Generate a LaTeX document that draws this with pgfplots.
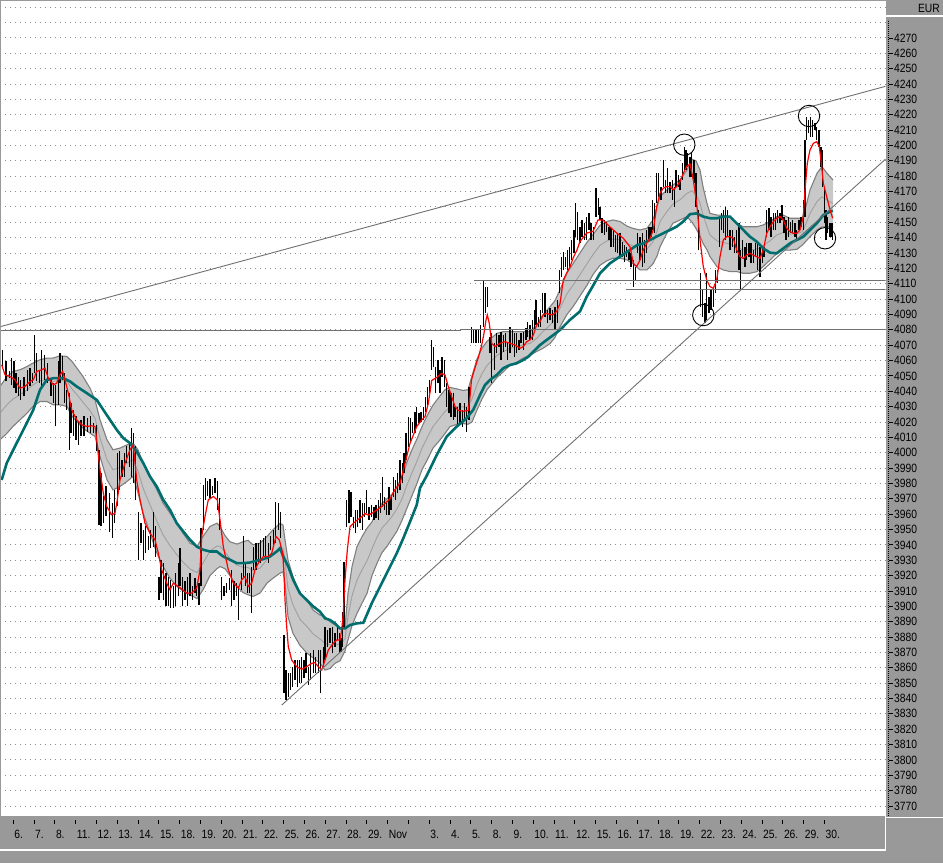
\documentclass[border=0pt]{standalone}
\usepackage{fontspec}
\setmainfont{Liberation Sans}[FakeStretch=0.86]
\usepackage{pgfplots}
\usepackage{pgfplotstable}
\pgfplotsset{compat=1.18}

\definecolor{panel}{HTML}{999999}
\definecolor{bandfill}{HTML}{C8C8C8}
\definecolor{bandline}{HTML}{7F7F7F}
\definecolor{midline}{HTML}{A0A0A0}
\definecolor{tealc}{HTML}{006E6E}
\definecolor{trend}{HTML}{707070}
\definecolor{gridc}{HTML}{8C8C8C}

\pgfplotstableread{
x lo hi
2.7 4056.6 4067.0
6.0 4046.4 4059.4
9.3 4048.5 4052.9
11.7 4044.2 4061.6
14.0 4042.0 4059.4
16.0 4038.8 4051.8
18.3 4036.6 4049.6
20.7 4034.4 4047.4
24.0 4036.6 4049.6
27.3 4039.9 4054.0
30.0 4043.1 4055.0
32.3 4045.3 4051.8
34.3 4051.8 4076.7
36.7 4046.4 4064.8
39.3 4045.3 4054.0
41.7 4043.1 4067.0
44.3 4047.4 4063.7
47.7 4045.3 4058.3
51.0 4036.6 4047.4
53.3 4032.3 4045.3
55.7 4017.1 4044.2
58.3 4031.2 4059.4
60.0 4045.3 4064.8
62.3 4047.4 4063.1
64.3 4032.3 4051.8
66.7 4027.9 4040.9
69.3 4001.9 4038.8
71.0 4012.7 4032.3
73.3 4010.6 4027.9
76.0 4008.4 4023.6
78.3 4005.1 4020.3
81.0 4010.6 4021.4
84.0 4010.6 4023.6
87.3 4013.8 4022.5
90.7 4012.7 4024.0
93.3 4012.7 4019.2
96.7 4000.8 4018.2
99.0 3953.1 4001.9
101.0 3952.0 3986.7
103.3 3954.1 3971.5
106.0 3958.5 3978.0
109.3 3948.7 3973.7
112.3 3944.4 3967.2
114.3 3954.1 3975.8
117.3 3965.0 3999.7
119.3 3975.8 4000.8
122.0 3984.5 3995.4
124.3 3984.5 3999.7
126.7 3993.2 4004.1
129.3 3991.0 4006.2
131.7 3984.5 4016.0
133.3 3980.2 4012.7
135.7 3969.3 4004.1
138.3 3930.3 3961.7
141.0 3941.1 3954.1
143.3 3930.3 3949.8
145.7 3934.6 3952.0
148.3 3936.8 3945.5
150.7 3937.9 3949.8
153.3 3938.9 3961.7
155.7 3932.4 3952.0
159.0 3904.2 3919.4
161.0 3908.6 3930.3
163.3 3904.2 3928.1
166.0 3899.9 3921.6
168.3 3899.9 3919.4
170.7 3898.8 3917.2
173.3 3898.8 3912.9
175.7 3899.9 3921.6
178.3 3906.4 3928.1
180.0 3912.9 3937.9
182.7 3899.9 3919.4
185.0 3904.2 3916.2
187.3 3899.9 3919.4
190.0 3906.4 3921.6
192.7 3904.2 3912.9
195.0 3908.6 3918.3
196.7 3906.4 3912.9
199.0 3901.0 3915.1
201.0 3912.9 3950.9
203.3 3949.8 3979.1
205.7 3969.3 3983.4
207.3 3971.5 3981.3
210.0 3970.4 3982.8
212.7 3972.6 3978.0
215.0 3973.7 3983.4
217.3 3962.8 3981.3
219.3 3949.8 3970.4
221.7 3904.2 3919.4
224.0 3906.4 3912.9
226.7 3908.6 3915.1
229.3 3910.7 3918.3
231.7 3899.9 3923.8
234.0 3904.2 3916.2
236.7 3906.4 3915.1
238.7 3891.2 3912.9
241.3 3910.7 3921.6
243.3 3919.4 3945.5
245.7 3912.9 3928.1
247.3 3908.6 3921.6
249.3 3908.6 3921.6
251.3 3895.5 3925.9
253.3 3923.8 3938.9
256.0 3923.8 3941.1
258.3 3928.1 3941.1
260.7 3928.1 3943.3
263.3 3932.4 3944.4
265.7 3932.4 3945.5
268.3 3928.1 3941.1
270.7 3936.8 3945.5
273.3 3938.9 3949.8
275.7 3941.1 3968.2
278.3 3949.8 3967.2
280.7 3944.4 3961.7
284.0 3843.3 3881.3
286.0 3839.0 3858.5
288.3 3841.2 3856.4
290.7 3845.5 3856.4
292.7 3847.7 3860.7
295.0 3852.0 3865.0
297.3 3847.7 3865.0
299.3 3849.8 3865.0
301.7 3849.8 3867.2
304.0 3853.1 3865.0
306.0 3856.4 3869.4
308.3 3848.8 3860.7
310.7 3852.0 3869.4
313.3 3856.4 3871.5
315.7 3856.4 3867.2
318.3 3856.4 3871.5
320.7 3843.3 3871.5
323.3 3860.7 3873.7
325.0 3865.0 3886.7
327.3 3873.7 3884.5
330.0 3875.9 3885.6
332.3 3869.4 3886.7
335.0 3873.7 3882.4
337.3 3878.0 3886.7
339.3 3869.4 3882.4
341.0 3870.5 3879.1
342.7 3873.7 3896.5
344.0 3886.7 3929.0
346.7 3951.8 3969.2
349.0 3954.0 3975.7
351.0 3958.3 3974.6
353.3 3950.7 3958.3
355.7 3947.5 3962.7
357.7 3951.8 3962.7
360.0 3954.0 3969.2
362.3 3949.7 3967.0
364.3 3958.3 3967.0
366.7 3960.5 3975.7
369.0 3956.2 3964.9
371.7 3958.3 3965.9
374.0 3956.2 3964.9
376.0 3957.3 3965.9
378.3 3956.2 3969.2
380.7 3960.5 3973.5
382.7 3964.9 3984.4
384.3 3962.7 3971.4
386.7 3959.4 3967.0
389.0 3959.4 3977.9
391.0 3962.7 3971.4
393.3 3971.4 3984.4
395.7 3969.2 3982.2
397.7 3973.5 3986.6
400.0 3975.7 3995.2
402.3 3980.0 3993.1
404.0 3986.6 3999.6
406.0 3995.3 4012.6
408.3 4004.0 4023.5
410.7 4007.2 4022.4
412.7 4012.6 4020.2
415.0 4012.6 4026.7
416.7 4017.0 4030.0
419.0 4019.1 4025.6
421.0 4020.2 4026.7
423.3 4021.3 4030.0
425.7 4026.7 4036.5
427.3 4030.0 4043.0
429.3 4038.7 4047.4
431.3 4053.9 4073.4
433.3 4056.0 4069.1
435.7 4038.7 4056.0
438.0 4045.2 4060.4
440.0 4038.7 4053.9
442.0 4049.5 4062.5
444.3 4043.0 4060.4
446.7 4030.0 4045.2
449.0 4025.6 4040.8
451.0 4023.5 4038.7
453.3 4021.3 4038.7
455.0 4023.5 4030.0
457.3 4017.0 4030.0
460.0 4019.1 4032.2
462.3 4017.0 4027.8
464.3 4021.3 4032.2
466.7 4013.7 4030.0
469.0 4021.3 4043.0
471.7 4071.3 4082.1
473.3 4071.3 4079.9
476.0 4071.3 4079.9
478.3 4071.3 4079.9
480.7 4071.3 4083.2
483.3 4082.1 4112.4
485.3 4090.8 4108.1
487.7 4095.1 4108.1
490.0 4064.7 4075.6
491.7 4045.2 4077.7
494.3 4053.9 4071.2
496.7 4064.7 4077.7
499.0 4069.1 4076.6
501.0 4060.4 4078.8
503.3 4065.8 4076.6
505.7 4069.1 4077.7
507.7 4060.4 4071.2
510.0 4064.7 4082.1
512.3 4069.1 4079.9
514.3 4062.5 4077.7
516.7 4064.7 4077.7
519.0 4066.9 4073.4
521.0 4071.2 4077.7
523.3 4066.9 4078.8
526.0 4073.4 4081.0
527.7 4075.6 4085.3
530.0 4073.4 4083.2
532.3 4073.4 4086.4
534.3 4079.9 4092.9
536.0 4083.2 4099.4
538.3 4082.1 4088.6
540.7 4082.1 4092.9
542.7 4090.8 4103.8
545.0 4088.6 4103.8
547.3 4084.2 4092.9
550.0 4086.4 4094.0
552.7 4084.2 4092.9
555.0 4079.9 4095.1
557.3 4084.2 4099.4
559.3 4103.8 4119.0
561.7 4114.6 4127.7
563.3 4119.0 4130.9
565.3 4121.2 4127.7
567.3 4119.0 4132.0
569.3 4121.2 4134.2
571.7 4125.5 4138.5
574.0 4129.8 4145.0
575.7 4140.7 4162.4
577.7 4138.5 4157.0
580.0 4136.3 4147.2
582.0 4140.7 4151.5
584.3 4138.5 4149.4
586.7 4138.5 4153.7
589.0 4145.0 4155.9
591.0 4138.5 4149.4
593.3 4138.5 4147.2
596.0 4153.7 4172.1
598.3 4154.8 4165.6
600.0 4151.5 4160.2
602.0 4142.9 4152.6
604.3 4141.8 4151.5
606.7 4143.9 4150.5
609.0 4138.5 4147.2
611.0 4134.2 4146.1
613.3 4134.2 4145.0
615.7 4130.9 4141.8
617.7 4129.8 4142.9
620.0 4127.7 4142.9
622.3 4127.7 4137.4
624.3 4124.4 4135.3
626.7 4127.7 4134.2
629.0 4125.5 4132.0
631.0 4121.2 4129.8
633.3 4108.1 4125.5
635.7 4112.5 4121.2
637.7 4129.8 4142.9
640.0 4125.5 4140.7
642.3 4121.2 4142.9
644.3 4123.3 4138.5
646.7 4129.8 4145.0
649.0 4138.5 4147.2
651.0 4140.7 4147.2
652.7 4145.0 4164.6
654.3 4142.9 4162.4
656.7 4162.4 4181.9
658.7 4166.7 4181.9
661.0 4164.6 4173.2
663.3 4173.2 4190.6
665.3 4168.9 4177.6
667.3 4168.9 4185.2
670.0 4168.9 4176.5
672.3 4164.6 4177.6
674.3 4160.2 4173.2
676.0 4173.2 4184.1
678.3 4173.2 4180.8
680.0 4171.1 4177.6
682.3 4177.6 4188.4
684.3 4184.1 4199.3
686.0 4184.1 4197.1
687.7 4186.3 4194.9
690.0 4179.7 4192.8
691.7 4179.7 4194.9
694.0 4175.4 4190.5
696.0 4160.2 4181.9
698.3 4132.0 4158.0
700.7 4095.1 4116.8
702.7 4088.6 4105.9
705.0 4084.2 4097.2
706.7 4086.4 4116.8
709.0 4090.7 4101.6
711.0 4092.9 4105.9
713.3 4095.1 4108.1
715.7 4103.8 4118.9
717.3 4110.2 4118.9
719.3 4134.1 4153.7
721.7 4145.0 4155.8
723.3 4142.8 4158.0
725.7 4138.5 4160.2
727.7 4140.6 4158.0
730.0 4132.0 4145.0
732.3 4134.1 4145.0
734.3 4129.8 4140.6
736.7 4129.8 4145.0
739.0 4118.9 4149.3
740.7 4106.0 4132.0
742.7 4127.6 4138.5
745.0 4121.1 4134.1
746.7 4125.4 4136.3
749.0 4127.6 4136.3
751.0 4123.3 4136.3
753.3 4123.3 4132.0
755.7 4127.6 4136.3
757.7 4118.9 4136.3
760.0 4114.6 4134.1
762.3 4123.3 4134.1
764.0 4127.6 4134.1
766.7 4140.6 4158.0
769.0 4145.0 4159.1
771.0 4140.6 4153.7
773.3 4145.0 4155.8
775.7 4145.0 4155.8
777.7 4149.3 4158.0
780.0 4149.3 4155.8
782.0 4151.5 4161.2
784.0 4142.8 4153.7
786.0 4138.5 4151.5
788.3 4140.6 4153.7
790.7 4142.8 4150.4
792.7 4142.8 4151.5
795.0 4140.6 4149.3
796.7 4138.5 4145.0
799.0 4145.0 4151.5
801.0 4147.1 4153.7
803.3 4145.0 4164.5
805.0 4153.7 4203.6
806.7 4203.6 4218.8
808.7 4207.9 4216.6
810.7 4205.7 4218.8
812.7 4205.7 4216.6
815.0 4210.1 4214.4
816.7 4203.6 4212.2
819.0 4199.2 4210.1
821.0 4186.2 4199.2
822.7 4173.2 4197.1
824.3 4149.3 4173.2
826.0 4138.5 4158.0
827.7 4142.8 4153.7
829.3 4140.6 4149.3
831.0 4140.6 4149.3
832.7 4138.5 4149.3
}\bars

\pgfplotstableread{
x u l m
0 4043.1 4008.4 4025.8
7 4049.6 4012.7 4031.2
13 4052.9 4017.1 4035.0
20 4054.0 4021.4 4037.7
27 4056.1 4025.7 4040.9
33 4058.3 4030.1 4044.2
40 4060.5 4033.3 4046.9
47 4061.6 4033.3 4047.5
53 4061.6 4031.2 4046.4
60 4063.1 4031.2 4047.2
67 4062.6 4030.1 4046.4
72 4059.4 4023.6 4041.5
77 4055.0 4020.3 4037.7
83 4049.6 4016.0 4032.8
90 4042.0 4012.7 4027.4
95 4034.4 4010.6 4022.5
100 4021.4 3997.5 4009.5
107 4008.4 3982.3 3995.4
113 4001.9 3975.8 3988.9
120 4003.0 3978.0 3990.5
127 4005.1 3981.3 3993.2
133 4006.2 3984.5 3995.4
138 4001.9 3974.0 3988.0
143 3993.2 3961.0 3977.1
150 3984.5 3947.6 3966.1
157 3975.8 3934.5 3955.2
163 3967.2 3926.0 3946.6
170 3960.7 3918.3 3939.5
177 3954.1 3912.9 3933.5
183 3947.6 3910.0 3928.8
190 3941.1 3907.5 3924.3
197 3938.9 3905.0 3922.0
203 3945.5 3910.7 3928.1
210 3952.0 3920.0 3936.0
217 3954.1 3924.5 3939.3
220 3952.0 3925.9 3939.0
225 3946.0 3924.5 3935.3
230 3942.0 3920.0 3931.0
237 3940.5 3913.0 3926.8
243 3942.0 3909.0 3925.5
248 3943.0 3907.5 3925.3
253 3940.0 3906.4 3923.2
260 3941.1 3908.6 3924.9
267 3945.5 3915.1 3930.3
273 3949.8 3918.3 3934.1
280 3954.0 3921.6 3937.8
283 3952.9 3922.5 3937.7
285 3943.2 3914.9 3929.1
288 3930.1 3893.2 3911.7
293 3919.3 3882.4 3900.9
300 3908.4 3874.5 3891.5
307 3904.0 3869.5 3886.8
313 3897.6 3866.5 3882.1
320 3894.3 3863.0 3878.7
325 3893.2 3858.5 3875.9
330 3890.0 3859.5 3874.8
335 3887.8 3862.9 3875.4
340 3885.6 3864.5 3875.1
345 3886.7 3871.0 3878.9
348 3908.4 3878.1 3893.3
352 3925.8 3887.5 3906.7
357 3938.8 3895.4 3917.1
362 3945.3 3902.0 3923.7
367 3950.8 3908.4 3929.6
372 3955.0 3920.0 3937.5
377 3962.0 3928.0 3945.0
382 3967.0 3935.0 3951.0
387 3970.0 3939.0 3954.5
392 3973.0 3944.0 3958.5
397 3978.0 3949.0 3963.5
402 3984.0 3956.0 3970.0
407 3994.0 3964.0 3979.0
412 4002.0 3972.0 3987.0
417 4009.0 3980.0 3994.5
422 4017.0 3989.0 4003.0
427 4024.0 3995.0 4009.5
433 4031.0 4003.0 4017.0
440 4037.0 4008.3 4022.7
445 4041.0 4012.5 4026.8
450 4042.5 4017.0 4029.8
457 4041.5 4018.5 4030.0
463 4040.5 4019.0 4029.8
468 4041.0 4018.5 4029.8
472 4050.0 4020.0 4035.0
477 4061.0 4027.8 4044.4
482 4068.0 4035.0 4051.5
487 4072.5 4041.0 4056.8
492 4075.0 4045.0 4060.0
497 4077.7 4049.0 4063.4
503 4078.8 4052.5 4065.7
510 4078.8 4057.0 4067.9
517 4078.8 4059.0 4068.9
523 4078.8 4061.5 4070.2
530 4078.8 4063.5 4071.2
537 4083.2 4066.0 4074.6
543 4090.0 4068.0 4079.0
550 4095.0 4071.0 4083.0
555 4099.0 4075.0 4087.0
560 4106.0 4082.0 4094.0
567 4117.0 4090.0 4103.5
573 4123.0 4095.0 4109.0
580 4130.0 4102.0 4116.0
587 4137.0 4109.0 4123.0
593 4142.0 4116.0 4129.0
600 4148.0 4122.0 4135.0
607 4150.5 4125.0 4137.8
613 4151.5 4126.6 4139.1
620 4150.5 4126.6 4138.6
627 4147.5 4125.5 4136.5
633 4146.0 4123.0 4134.5
640 4145.0 4119.0 4132.0
647 4146.1 4119.0 4132.6
653 4151.5 4123.0 4137.3
657 4160.2 4128.0 4144.1
660 4166.7 4134.0 4150.4
667 4171.1 4143.0 4157.1
673 4174.3 4149.4 4161.9
680 4177.6 4151.5 4164.6
687 4184.1 4153.7 4168.9
692 4191.0 4150.0 4170.5
696 4190.0 4146.0 4168.0
700 4184.0 4141.0 4162.5
703 4173.2 4136.3 4154.8
707 4162.3 4132.0 4147.2
710 4155.8 4127.6 4141.7
717 4154.7 4121.1 4137.9
723 4154.7 4119.0 4136.9
730 4153.7 4117.9 4135.8
737 4149.3 4117.9 4133.6
743 4147.1 4116.8 4132.0
750 4147.1 4116.8 4132.0
757 4147.1 4117.9 4132.5
763 4148.2 4121.1 4134.7
770 4150.4 4125.4 4137.9
777 4153.7 4129.8 4141.8
783 4154.7 4131.9 4143.3
790 4152.6 4131.9 4142.3
797 4152.6 4132.4 4142.5
802 4152.6 4135.0 4143.8
805 4158.0 4137.0 4147.5
810 4171.0 4140.6 4155.8
817 4181.9 4145.0 4163.5
822 4186.2 4147.0 4166.6
827 4181.9 4147.1 4164.5
833 4177.5 4147.1 4162.3
}\band

\pgfplotstableread{
x y
1.7 4057.2
5 4050.7
10 4049.6
15 4047.4
20 4042.0
25 4043.1
30 4046.4
33.3 4047.4
36.7 4052.9
41.7 4054.0
45 4055.0
48.3 4048.5
53.3 4044.2
56.7 4045.3
60 4050.7
62.7 4052.9
65 4047.4
68.3 4038.8
71.7 4027.9
76.7 4021.4
81.7 4018.2
86.7 4017.1
91.7 4017.5
95 4017.1
96.7 4008.4
100 3988.9
103.3 3973.7
106.7 3965.0
111.7 3959.6
115 3960.7
117.3 3969.3
120 3982.3
125 3993.2
130 4001.9
133.3 4005.1
136.7 3982.3
140 3969.3
145 3954.1
150 3947.6
155 3943.3
158.3 3934.6
161.7 3923.8
166.7 3915.1
170 3910.7
173.3 3915.1
178.3 3912.9
182.7 3910.7
186.7 3908.6
191.7 3908.6
196.7 3911.8
200 3923.8
201.7 3945.5
205 3958.5
208.3 3969.3
213.3 3971.5
217.3 3969.3
220 3956.3
223.3 3938.9
228.3 3923.8
233.3 3915.1
238.3 3911.8
241.7 3917.2
245 3919.4
248.3 3912.9
251.7 3915.1
255 3923.8
258.3 3928.1
263.3 3932.4
268.3 3932.4
271.7 3934.6
276 3945.5
279.3 3943.3
282.7 3934.5
284 3921.4
285 3904.1
286.7 3886.7
288.3 3873.7
291.7 3865.0
296.7 3860.7
301.7 3859.0
306.7 3860.7
311.7 3862.9
315 3863.3
318.3 3860.7
321.7 3858.5
324 3862.9
328.3 3871.5
333.3 3875.9
336.7 3878.1
340 3878.1
341.7 3884.6
343.3 3895.4
345 3917.1
347.3 3936.6
350 3951.8
353.3 3954.0
357.3 3956.2
361.7 3958.3
365 3960.5
368.3 3959.4
371.7 3960.5
376.7 3962.7
381.7 3964.9
385 3967.0
390 3970.0
395 3976.0
400 3980.0
405 3993.0
410 4006.0
416.7 4017.0
421.7 4021.3
425 4023.5
428.3 4032.0
431.7 4047.0
436.7 4049.0
441.7 4051.7
445 4050.6
448.3 4043.0
451.7 4036.5
455 4030.0
458.3 4027.5
463.3 4027.0
468.3 4027.5
470 4036.5
471.5 4047.4
473.3 4051.7
478.3 4062.0
481.7 4070.0
484 4077.7
486 4086.4
487.3 4089.7
489.3 4084.2
491.7 4071.2
495 4069.1
500 4071.2
505 4072.3
510 4071.2
515 4070.1
520 4068.0
523.3 4069.1
526.7 4072.3
530 4073.4
533.3 4076.6
536.7 4083.2
540 4085.3
543.3 4089.7
546.7 4090.8
550 4089.7
553.3 4090.0
556.7 4092.0
560 4097.0
563.3 4112.5
566.7 4117.0
570 4121.0
573.3 4127.0
577 4132.0
580 4137.5
586.7 4143.0
593 4144.0
598 4151.5
603 4151.5
610 4147.0
616.7 4143.0
623.3 4139.6
630 4134.0
633.3 4123.3
636.7 4121.2
640 4125.5
643.3 4132.0
646.7 4136.3
650 4139.6
653.3 4145.0
656.7 4160.2
660 4168.9
663.3 4172.2
666.7 4173.2
670 4173.2
673.3 4171.1
676.7 4173.2
680 4176.5
683.3 4181.9
686.7 4186.3
690 4188.0
693.3 4177.5
696.7 4162.3
700 4138.5
703.3 4121.1
706.7 4112.4
710 4108.1
713.3 4107.0
716.7 4112.4
720 4127.6
723.3 4138.5
726.7 4140.6
730 4140.6
733.3 4139.6
736.7 4132.0
740 4127.6
743.3 4126.5
746.7 4128.7
750 4129.8
753.3 4128.7
756.7 4127.6
760 4126.5
763.3 4132.0
766.7 4142.8
770 4147.1
773.3 4150.4
776.7 4152.6
780 4153.7
783.3 4151.5
786.7 4146.1
790 4143.9
793.3 4142.8
796.7 4142.8
800 4145.0
803.3 4153.7
805 4171.0
807.3 4188.4
810 4197.1
813.3 4201.4
816.7 4202.5
819.3 4199.2
821.7 4186.2
823.3 4175.4
826.7 4166.7
830 4158.0
832.7 4152.6
}\fastma

\pgfplotstableread{
x y
1.7 3982.3
6.7 3993.2
13.3 4001.9
20 4010.6
26.7 4019.2
33.3 4027.9
40 4040.9
46.7 4047.4
53.3 4048.5
63.3 4048.5
70 4046.4
76.7 4043.1
86.7 4038.8
96.7 4034.4
103.3 4027.9
110 4021.4
116.7 4014.9
123.3 4009.5
130 4006.2
136.7 4000.8
143.3 3993.2
150 3984.5
156.7 3978.0
163.3 3969.3
170 3962.8
176.7 3954.1
183.3 3948.7
190 3943.3
196.7 3938.9
203.3 3936.8
210 3935.7
216.7 3935.7
223.3 3932.4
230 3930.3
236.7 3928.1
243.3 3928.1
250 3928.5
256.7 3929.8
263.3 3930.7
270 3932.4
276.7 3935.7
280 3937.8
283.3 3932.3
288.3 3925.8
293.3 3917.1
300 3908.4
306.7 3904.1
313.3 3899.8
320 3896.5
325 3892.2
330 3891.1
335 3888.9
340 3885.6
345 3885.6
350 3887.8
356.7 3888.9
363.3 3889.3
366.7 3894.3
371.7 3901.9
376.7 3908.4
383.3 3917.1
390 3925.8
396.7 3934.5
403.3 3944.3
410 3955.0
416.7 3966.0
420 3977.0
426.7 3985.0
436.7 3998.5
446.7 4010.5
456.7 4017.0
466.7 4022.5
473.3 4028.0
480 4037.5
485 4044.1
490 4047.4
496.7 4050.6
503.3 4055.0
510 4057.1
516.7 4058.2
523.3 4060.4
528.3 4062.5
533.3 4065.8
540 4070.1
546.7 4073.4
553.3 4076.6
560 4079.9
570 4086.5
580 4092.0
586.7 4101.6
593.3 4109.0
600 4116.8
610 4123.3
620 4127.7
630 4132.0
636.7 4135.0
643.3 4136.3
650 4138.5
656.7 4140.7
663.3 4142.9
670 4145.0
676.7 4147.2
683.3 4150.5
690 4155.3
696.7 4155.8
703.3 4153.7
710 4152.6
716.7 4152.6
723.3 4153.7
730 4153.7
736.7 4149.3
743.3 4145.0
750 4140.6
756.7 4137.4
763.3 4133.0
770 4130.2
776.7 4129.8
783.3 4133.0
790 4136.3
796.7 4138.5
803.3 4140.6
810 4145.0
816.7 4149.3
823.3 4154.7
830 4156.9
832.7 4157.6
}\slowma

\begin{document}
\begin{tikzpicture}[x=1pt,y=1pt]
\fill[panel] (0,0) rectangle (943,863);
\begin{axis}[
  at={(0pt,47pt)}, anchor=south west,
  scale only axis, width=885.5pt, height=816pt,
  xmin=0, xmax=885.5, ymin=3763.5, ymax=4294.7,
  axis background/.style={fill=white},
  axis line style={draw=none},
  ytick={3770,3780,...,4270},
  extra y ticks={4280,4290},
  extra y tick labels={},
  extra y tick style={grid=major, tick style={draw=none}},
  ymajorgrids=true,
  grid style={gridc, line width=0.9pt, dash pattern=on 0.9pt off 4.1pt},
  ytick pos=right, yticklabel pos=right,
  xtick pos=left,
  xtick={13.2,34.0,54.8,75.6,96.4,117.2,138.0,158.8,179.6,200.4,221.2,242.0,262.8,283.6,304.4,325.2,346.0,366.8,387.6,408.4,429.2,450.0,470.8,491.6,512.4,533.2,554.0,574.8,595.6,616.4,637.2,658.0,678.8,699.6,720.4,741.2,762.0,782.8,803.6,824.4},
  xticklabels={6.,7.,8.,11.,12.,13.,14.,15.,18.,19.,20.,21.,22.,25.,26.,27.,28.,29.,Nov,{},3.,4.,5.,8.,9.,10.,11.,12.,15.,16.,17.,18.,19.,22.,23.,24.,25.,26.,29.,30.},
  tick align=outside,
  major tick length=3.5pt,
  tick style={black, line width=0.8pt},
  xtick style={yshift=-4pt},
  ytick style={xshift=3.5pt},
  tick label style={font=\fontsize{12}{14}\selectfont, black, inner sep=0pt},
  xticklabel style={anchor=west, xshift=1pt, yshift=-14.5pt},
  yticklabel style={anchor=west, xshift=5pt},
  /pgf/number format/assume math mode=true,
  /pgf/number format/1000 sep={},
]
% band (fill between lower and upper via stacking)
\addplot[draw=none, no markers, stack plots=y, forget plot] table[x=x, y=l] {\band};
\addplot[fill=bandfill, draw=none, no markers, stack plots=y, forget plot]
  table[x=x, y expr=\thisrow{u}-\thisrow{l}] {\band} \closedcycle;
\addplot[bandline, line width=1.1pt, no markers] table[x=x, y=u] {\band};
\addplot[bandline, line width=1.1pt, no markers] table[x=x, y=l] {\band};
\addplot[midline, line width=0.9pt, no markers] table[x=x, y=m] {\band};
% price bars (high-low)
\addplot[draw=none, no markers, error bars/.cd, y dir=plus, y explicit, error mark=none,
  error bar style={draw=black, line width=1.4pt}]
  table[x=x, y=lo, y error plus expr=\thisrow{hi}-\thisrow{lo}] {\bars};
% moving averages
\addplot[tealc, line width=2.6pt, no markers] table[x=x, y=y] {\slowma};
\addplot[red, line width=1.2pt, no markers] table[x=x, y=y] {\fastma};
% trend and level lines
\addplot[trend, line width=0.9pt, no markers] coordinates {(0,4082.0) (885.5,4238.5)};
\addplot[trend, line width=0.9pt, no markers] coordinates {(281.7,3835.7) (885.5,4191.1)};
\addplot[trend, line width=1.1pt, no markers] coordinates {(0,4079.3) (461,4079.3)};
\addplot[trend, line width=1.1pt, no markers] coordinates {(460,4080.0) (885.5,4080.0)};
\addplot[trend, line width=1.1pt, no markers] coordinates {(474,4112.0) (885.5,4112.0)};
\addplot[trend, line width=1.1pt, no markers] coordinates {(626,4106.4) (885.5,4106.4)};
% circles
\addplot[only marks, mark=o, mark size=10.7pt, mark options={draw=black, line width=0.9pt}]
  coordinates {(684.3,4200.5) (703.3,4089.6) (809,4219.2) (825,4139.6)};
\end{axis}
% frame decorations
\draw[gray!80, line width=1.2pt] (0.6,47) -- (0.6,862.4) -- (885.5,862.4);
\draw[white, line width=1.5pt] (0,13) -- (885.5,13) -- (885.5,47);
\draw[white, line width=1.5pt] (885.5,45.5) -- (943,45.5);
\draw[white, line width=1.5pt] (886,847) -- (943,847);
\draw[black, line width=0.8pt, dash pattern=on 0.8pt off 1.2pt] (888.5,47) -- (888.5,843);
\node[anchor=east, inner sep=0pt, font=\fontsize{12}{14}\selectfont] at (940,854.5) {EUR};
\pgfresetboundingbox
\useasboundingbox (0,0) rectangle (943,863);
\end{tikzpicture}
\end{document}
